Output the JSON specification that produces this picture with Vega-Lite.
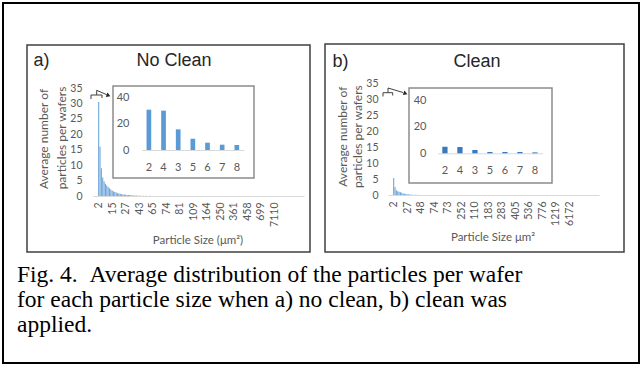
{
  "$schema": "https://vega.github.io/schema/vega-lite/v6.json",
  "width": 641,
  "height": 366,
  "autosize": {"type": "fit", "contains": "padding"},
  "padding": {"left": 3, "top": 3, "right": 2, "bottom": 3},
  "background": "white",
  "config": {
    "view": {"stroke": "#000000", "strokeWidth": 2},
    "axis": {"grid": false}
  },
  "datasets": {
    "panelBoxes": [
      {"x": 3.774, "x2": 48.27, "y": 11.667, "y2": 69.167},
      {"x": 50.629, "x2": 97.642, "y": 11.389, "y2": 69.167}
    ],
    "insetBoxes": [
      {"x": 17.296, "x2": 39.465, "y": 23.056, "y2": 48.611},
      {"x": 63.836, "x2": 86.321, "y": 23.611, "y2": 50.0}
    ],
    "mainA": [
      {"i": 0, "v": 30.5}, {"i": 1, "v": 16}, {"i": 2, "v": 9}, {"i": 3, "v": 6},
      {"i": 4, "v": 4.8}, {"i": 5, "v": 4}, {"i": 6, "v": 3.4}, {"i": 7, "v": 2.9},
      {"i": 8, "v": 2.5}, {"i": 9, "v": 2.1}, {"i": 10, "v": 1.8}, {"i": 11, "v": 1.5},
      {"i": 12, "v": 1.3}, {"i": 13, "v": 1.1}, {"i": 14, "v": 0.9}, {"i": 15, "v": 0.8},
      {"i": 16, "v": 0.7}, {"i": 17, "v": 0.6}, {"i": 18, "v": 0.5}, {"i": 19, "v": 0.45},
      {"i": 20, "v": 0.4}, {"i": 21, "v": 0.35}, {"i": 22, "v": 0.3}, {"i": 23, "v": 0.3},
      {"i": 24, "v": 0.25}, {"i": 25, "v": 0.2}, {"i": 26, "v": 0.2}, {"i": 27, "v": 0.15},
      {"i": 28, "v": 0.15}, {"i": 29, "v": 0.1}, {"i": 30, "v": 0.1}, {"i": 31, "v": 0.1},
      {"i": 33, "v": 0.08}, {"i": 35, "v": 0.06}, {"i": 38, "v": 0.05}, {"i": 42, "v": 0.04}
    ],
    "mainB": [
      {"i": 0, "v": 5.3}, {"i": 1, "v": 2.5}, {"i": 2, "v": 1.5}, {"i": 3, "v": 1.2},
      {"i": 4, "v": 1.0}, {"i": 5, "v": 0.9}, {"i": 6, "v": 0.7}, {"i": 7, "v": 0.5},
      {"i": 8, "v": 0.4}, {"i": 9, "v": 0.3}, {"i": 10, "v": 0.25}, {"i": 11, "v": 0.2},
      {"i": 12, "v": 0.15}, {"i": 13, "v": 0.1}, {"i": 14, "v": 0.1}, {"i": 16, "v": 0.08},
      {"i": 18, "v": 0.05}
    ],
    "insetA": [
      {"s": "2", "v": 30.4}, {"s": "4", "v": 29.7}, {"s": "3", "v": 15.6}, {"s": "5", "v": 8.5},
      {"s": "6", "v": 5.5}, {"s": "7", "v": 4.0}, {"s": "8", "v": 3.8}
    ],
    "insetB": [
      {"s": "2", "v": 4.9}, {"s": "4", "v": 4.7}, {"s": "3", "v": 2.5}, {"s": "5", "v": 1.0},
      {"s": "6", "v": 1.0}, {"s": "7", "v": 1.0}, {"s": "8", "v": 0.7}
    ],
    "panelLabels": [
      {"t": "a)", "x": 6.053, "y": 16.111},
      {"t": "No Clean", "x": 26.887, "y": 16.111},
      {"t": "b)", "x": 53.066, "y": 16.389},
      {"t": "Clean", "x": 74.528, "y": 16.389}
    ],
    "yTitles": [
      {"t": "Average number of", "x": 6.494, "y": 37.778},
      {"t": "particles per  wafers", "x": 9.23, "y": 37.5},
      {"t": "Average number of", "x": 53.506, "y": 37.139},
      {"t": "particles per  wafers", "x": 55.77, "y": 37.139}
    ],
    "xTitles": [
      {"t": "Particle Size (μm²)", "x": 30.66, "y": 66.111},
      {"t": "Particle Size μm²", "x": 77.044, "y": 65.278}
    ],
    "caption": [
      {"t": "Fig. 4. \u00a0Average distribution of the particles per wafer", "x": 2.201, "y": 77.5},
      {"t": "for each particle size when a) no clean, b) clean was", "x": 2.201, "y": 84.444},
      {"t": "applied.", "x": 2.201, "y": 91.389}
    ],
    "brackets": [
      {"g": "a1", "o": 0, "x": 13.836, "y": 26.667},
      {"g": "a1", "o": 1, "x": 13.836, "y": 25.556},
      {"g": "a1", "o": 2, "x": 15.566, "y": 25.556},
      {"g": "a1", "o": 3, "x": 15.566, "y": 26.389},
      {"g": "a2", "o": 0, "x": 14.733, "y": 25.556},
      {"g": "a2", "o": 1, "x": 14.733, "y": 24.25},
      {"g": "a2", "o": 2, "x": 16.305, "y": 25.472},
      {"g": "b1", "o": 0, "x": 59.748, "y": 25.972},
      {"g": "b1", "o": 1, "x": 59.748, "y": 24.917},
      {"g": "b1", "o": 2, "x": 61.274, "y": 24.917},
      {"g": "b1", "o": 3, "x": 61.274, "y": 25.694},
      {"g": "b2", "o": 0, "x": 60.535, "y": 24.917},
      {"g": "b2", "o": 1, "x": 60.535, "y": 23.611},
      {"g": "b2", "o": 2, "x": 62.893, "y": 24.861}
    ],
    "arrows": [
      {"x": 16.588, "y": 25.694},
      {"x": 63.286, "y": 25.139}
    ]
  },
  "resolve": {
    "scale": {"x": "independent", "y": "independent"},
    "axis": {"x": "independent", "y": "independent"}
  },
  "layer": [
    {
      "data": {"name": "panelBoxes"},
      "mark": {"type": "rect", "filled": false, "stroke": "#404040", "strokeWidth": 1.5},
      "encoding": {
        "x": {"field": "x", "type": "quantitative", "scale": {"domain": [0, 100]}, "axis": null},
        "x2": {"field": "x2"},
        "y": {"field": "y", "type": "quantitative", "scale": {"domain": [0, 100], "reverse": true}, "axis": null},
        "y2": {"field": "y2"}
      }
    },
    {
      "data": {"name": "insetBoxes"},
      "mark": {"type": "rect", "filled": false, "stroke": "#8c8c8c", "strokeWidth": 1.5},
      "encoding": {
        "x": {"field": "x", "type": "quantitative", "scale": {"domain": [0, 100]}, "axis": null},
        "x2": {"field": "x2"},
        "y": {"field": "y", "type": "quantitative", "scale": {"domain": [0, 100], "reverse": true}, "axis": null},
        "y2": {"field": "y2"}
      }
    },
    {
      "data": {"name": "mainA"},
      "mark": {"type": "bar", "width": 1.1, "color": "#6fa5da"},
      "encoding": {
        "x": {
          "field": "i", "type": "quantitative",
          "scale": {"domain": [-0.5, 148.5], "range": [90, 301], "nice": false, "zero": false},
          "axis": {
            "orient": "bottom", "offset": -167, "title": null,
            "values": [0, 10, 20, 30, 40, 50, 60, 70, 80, 90, 100, 110, 120, 130],
            "labelExpr": "['2','15','27','43','65','74','81','109','164','250','361','458','699','7110'][round(datum.value / 10)]",
            "labelAngle": -90, "labelPadding": 6, "ticks": false, "tickSize": 0,
            "domainColor": "#d9d9d9", "domainWidth": 1,
            "labelOverlap": false, "labelFlush": false, "labelBound": false,
            "labelFont": "Lato", "labelFontSize": 10.5, "labelColor": "#595959"
          }
        },
        "y": {
          "field": "v", "type": "quantitative",
          "scale": {"domain": [0, 35], "range": [193, 85], "nice": false},
          "axis": {
            "orient": "left", "offset": -79, "title": null,
            "values": [0, 5, 10, 15, 20, 25, 30, 35],
            "domain": false, "ticks": false, "tickSize": 0, "labelPadding": 0,
            "labelOverlap": false, "labelFlush": false, "labelBound": false,
            "labelFont": "Lato", "labelFontSize": 10.5, "labelColor": "#595959"
          }
        }
      }
    },
    {
      "data": {"name": "mainB"},
      "mark": {"type": "bar", "width": 1.1, "color": "#6fa5da"},
      "encoding": {
        "x": {
          "field": "i", "type": "quantitative",
          "scale": {"domain": [-0.5, 148.5], "range": [385, 596], "nice": false, "zero": false},
          "axis": {
            "orient": "bottom", "offset": -168, "title": null,
            "values": [0, 10, 20, 30, 40, 50, 60, 70, 80, 90, 100, 110, 120, 130],
            "labelExpr": "['2','27','48','74','73','252','110','183','283','405','536','776','1219','6172'][round(datum.value / 10)]",
            "labelAngle": -90, "labelPadding": 6, "ticks": false, "tickSize": 0,
            "domainColor": "#d9d9d9", "domainWidth": 1,
            "labelOverlap": false, "labelFlush": false, "labelBound": false,
            "labelFont": "Lato", "labelFontSize": 10.5, "labelColor": "#595959"
          }
        },
        "y": {
          "field": "v", "type": "quantitative",
          "scale": {"domain": [0, 35], "range": [192, 80.3], "nice": false},
          "axis": {
            "orient": "left", "offset": -375, "title": null,
            "values": [0, 5, 10, 15, 20, 25, 30, 35],
            "domain": false, "ticks": false, "tickSize": 0, "labelPadding": 0,
            "labelOverlap": false, "labelFlush": false, "labelBound": false,
            "labelFont": "Lato", "labelFontSize": 10.5, "labelColor": "#595959"
          }
        }
      }
    },
    {
      "data": {"name": "insetA"},
      "mark": {"type": "bar", "color": "#5b9bd5"},
      "encoding": {
        "x": {
          "field": "s", "type": "nominal", "sort": null,
          "scale": {"range": [138.7, 241], "paddingInner": 0.68, "paddingOuter": 0.33},
          "axis": {
            "orient": "bottom", "offset": -213, "title": null, "labelAngle": 0,
            "labelPadding": 11, "ticks": false, "tickSize": 0,
            "domainColor": "#d9d9d9", "domainWidth": 1,
            "labelFont": "Lato", "labelFontSize": 11, "labelColor": "#595959"
          }
        },
        "y": {
          "field": "v", "type": "quantitative",
          "scale": {"domain": [0, 40], "range": [147, 94], "nice": false},
          "axis": {
            "orient": "left", "offset": -126, "title": null, "values": [0, 20, 40],
            "domain": false, "ticks": false, "tickSize": 0, "labelPadding": 0,
            "labelFont": "Lato", "labelFontSize": 11, "labelColor": "#595959"
          }
        }
      }
    },
    {
      "data": {"name": "insetB"},
      "mark": {"type": "bar", "color": "#3a78c0"},
      "encoding": {
        "x": {
          "field": "s", "type": "nominal", "sort": null,
          "scale": {"range": [434.35, 539.5], "paddingInner": 0.65, "paddingOuter": 0.33},
          "axis": {
            "orient": "bottom", "offset": -209.7, "title": null, "labelAngle": 0,
            "labelPadding": 11, "ticks": false, "tickSize": 0,
            "domainColor": "#d9d9d9", "domainWidth": 1,
            "labelFont": "Lato", "labelFontSize": 11, "labelColor": "#595959"
          }
        },
        "y": {
          "field": "v", "type": "quantitative",
          "scale": {"domain": [0, 40], "range": [150.3, 97], "nice": false},
          "axis": {
            "orient": "left", "offset": -423, "title": null, "values": [0, 20, 40],
            "domain": false, "ticks": false, "tickSize": 0, "labelPadding": 0,
            "labelFont": "Lato", "labelFontSize": 11, "labelColor": "#595959"
          }
        }
      }
    },
    {
      "data": {"name": "panelLabels"},
      "mark": {"type": "text", "font": "Liberation Sans", "fontSize": 18, "color": "#262626", "align": "center", "baseline": "middle"},
      "encoding": {
        "x": {"field": "x", "type": "quantitative", "scale": {"domain": [0, 100]}, "axis": null},
        "y": {"field": "y", "type": "quantitative", "scale": {"domain": [0, 100], "reverse": true}, "axis": null},
        "text": {"field": "t"}
      }
    },
    {
      "data": {"name": "yTitles"},
      "mark": {"type": "text", "font": "Lato", "fontSize": 12, "color": "#595959", "align": "center", "baseline": "middle", "angle": 270},
      "encoding": {
        "x": {"field": "x", "type": "quantitative", "scale": {"domain": [0, 100]}, "axis": null},
        "y": {"field": "y", "type": "quantitative", "scale": {"domain": [0, 100], "reverse": true}, "axis": null},
        "text": {"field": "t"}
      }
    },
    {
      "data": {"name": "xTitles"},
      "mark": {"type": "text", "font": "Lato", "fontSize": 11.5, "color": "#595959", "align": "center", "baseline": "middle"},
      "encoding": {
        "x": {"field": "x", "type": "quantitative", "scale": {"domain": [0, 100]}, "axis": null},
        "y": {"field": "y", "type": "quantitative", "scale": {"domain": [0, 100], "reverse": true}, "axis": null},
        "text": {"field": "t"}
      }
    },
    {
      "data": {"name": "caption"},
      "mark": {"type": "text", "font": "Liberation Serif", "fontSize": 23.5, "color": "#000000", "align": "left", "baseline": "alphabetic"},
      "encoding": {
        "x": {"field": "x", "type": "quantitative", "scale": {"domain": [0, 100]}, "axis": null},
        "y": {"field": "y", "type": "quantitative", "scale": {"domain": [0, 100], "reverse": true}, "axis": null},
        "text": {"field": "t"}
      }
    },
    {
      "data": {"name": "brackets"},
      "mark": {"type": "line", "color": "#404040", "strokeWidth": 1},
      "encoding": {
        "x": {"field": "x", "type": "quantitative", "scale": {"domain": [0, 100]}, "axis": null},
        "y": {"field": "y", "type": "quantitative", "scale": {"domain": [0, 100], "reverse": true}, "axis": null},
        "detail": {"field": "g"},
        "order": {"field": "o"}
      }
    },
    {
      "data": {"name": "arrows"},
      "mark": {"type": "point", "shape": "triangle-right", "filled": true, "size": 22, "color": "#262626", "angle": 20, "opacity": 1},
      "encoding": {
        "x": {"field": "x", "type": "quantitative", "scale": {"domain": [0, 100]}, "axis": null},
        "y": {"field": "y", "type": "quantitative", "scale": {"domain": [0, 100], "reverse": true}, "axis": null}
      }
    }
  ]
}
